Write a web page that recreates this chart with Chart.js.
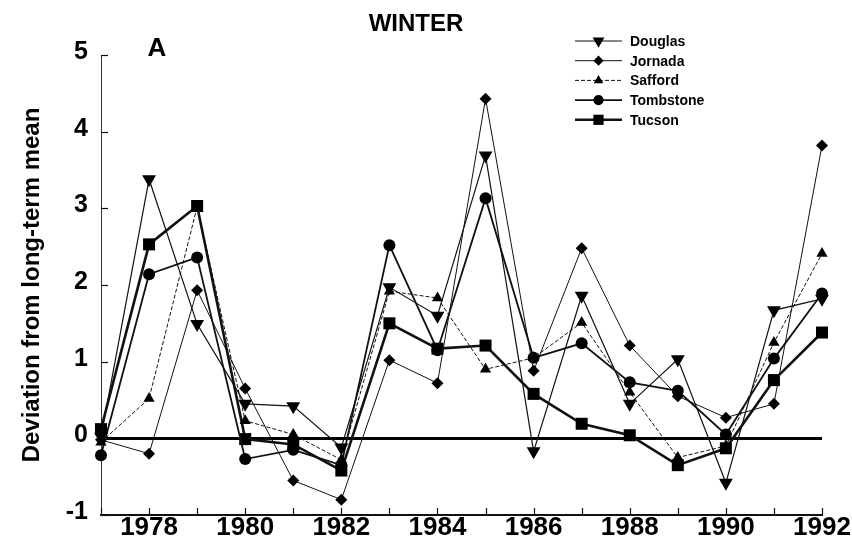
<!DOCTYPE html>
<html>
<head>
<meta charset="utf-8">
<script src="https://cdn.jsdelivr.net/npm/chart.js@4.4.1/dist/chart.umd.min.js"></script>
<style>
  html, body { margin: 0; padding: 0; background: #fff; }
  canvas { display: block; }
</style>
</head>
<body>
<canvas id="c" width="852" height="552"></canvas>
<script>
// Winter precipitation: deviation from the long-term mean, by station
const years     = [1977, 1978, 1979, 1980, 1981, 1982, 1983, 1984, 1985, 1986, 1987, 1988, 1989, 1990, 1991, 1992];
const douglas   = [0.02, 3.38, 1.49, 0.45, 0.42, -0.12, 1.97, 1.60, 3.69, -0.17, 1.86, 0.45, 1.03, -0.58, 1.67, 1.82];
const jornada   = [-0.02, -0.20, 1.93, 0.65, -0.55, -0.80, 1.02, 0.72, 4.43, 0.88, 2.48, 1.21, 0.55, 0.27, 0.45, 3.82];
const safford   = [-0.05, 0.52, 3.02, 0.23, 0.05, -0.28, 1.92, 1.83, 0.90, 1.05, 1.51, 0.60, -0.25, -0.10, 1.25, 2.41];
const tombstone = [-0.22, 2.14, 2.36, -0.27, -0.15, -0.35, 2.52, 1.15, 3.13, 1.05, 1.24, 0.73, 0.62, 0.05, 1.04, 1.89];
const tucson    = [0.12, 2.53, 3.03, -0.01, -0.08, -0.42, 1.50, 1.17, 1.21, 0.58, 0.19, 0.04, -0.35, -0.13, 0.76, 1.38];

const yTicks = [-1, 0, 1, 2, 3, 4, 5];
const titleText = 'WINTER';
const panelText = 'A';
const yTitle = 'Deviation from long-term mean';

const FONT = "'Liberation Sans', Arial, Helvetica, sans-serif";

const pts = arr => years.map((yr, i) => ({ x: yr, y: arr[i] }));

const series = [
  { label: 'Douglas',   data: douglas,   style: 'triangle', rot: 180, r: 8,   w: 1.2, dash: [] },
  { label: 'Jornada',   data: jornada,   style: 'rectRot',  rot: 0,   r: 6,   w: 1.0, dash: [] },
  { label: 'Safford',   data: safford,   style: 'triangle', rot: 0,   r: 6.5, w: 1.0, dash: [4, 2] },
  { label: 'Tombstone', data: tombstone, style: 'circle',   rot: 0,   r: 6,   w: 1.8, dash: [] },
  { label: 'Tucson',    data: tucson,    style: 'rect',     rot: 0,   r: 8.5, w: 2.6, dash: [] }
];

const datasets = series.map(s => ({
  label: s.label,
  data: pts(s.data),
  borderColor: '#111',
  backgroundColor: '#000',
  borderWidth: s.w,
  borderDash: s.dash,
  pointStyle: s.style,
  pointRotation: s.rot,
  pointRadius: s.r,
  pointHoverRadius: s.r,
  pointBorderWidth: 0,
  pointBackgroundColor: '#000',
  tension: 0,
  clip: false
}));

// Inward tick marks, title, panel letter and the station key
const decor = {
  id: 'decor',
  afterDraw(chart) {
    const { ctx, chartArea: a, scales: { x, y } } = chart;
    ctx.save();
    ctx.strokeStyle = '#111';
    ctx.lineWidth = 1.2;
    ctx.setLineDash([]);
    yTicks.forEach(v => {
      const py = Math.round(y.getPixelForValue(v)) + 0.5;
      ctx.beginPath(); ctx.moveTo(a.left, py); ctx.lineTo(a.left + 7, py); ctx.stroke();
    });
    years.forEach(yr => {
      const px = Math.round(x.getPixelForValue(yr)) + 0.5;
      ctx.beginPath(); ctx.moveTo(px, a.bottom); ctx.lineTo(px, a.bottom - 7); ctx.stroke();
    });

    ctx.fillStyle = '#000';
    ctx.textAlign = 'center';
    ctx.textBaseline = 'middle';
    ctx.font = 'bold 24px ' + FONT;
    ctx.fillText(titleText, 416, 24);
    ctx.font = 'bold 26px ' + FONT;
    ctx.fillText(panelText, 157, 49);

    // key
    const lx0 = 575, lx1 = 622, tx = 630;
    ctx.font = 'bold 14px ' + FONT;
    ctx.textAlign = 'left';
    chart.data.datasets.forEach((ds, i) => {
      const ly = 41 + i * 19.7;
      ctx.strokeStyle = ds.borderColor;
      ctx.lineWidth = ds.borderWidth;
      ctx.setLineDash(ds.borderDash || []);
      ctx.beginPath(); ctx.moveTo(lx0, ly); ctx.lineTo(lx1, ly); ctx.stroke();
      ctx.setLineDash([]);
      ctx.fillStyle = '#000';
      Chart.helpers.drawPoint(ctx, {
        pointStyle: ds.pointStyle,
        rotation: ds.pointRotation,
        radius: ds.pointRadius * 0.85,
        borderWidth: 0
      }, (lx0 + lx1) / 2, ly);
      ctx.fillText(ds.label, tx, ly + 1);
    });
    ctx.restore();
  }
};

new Chart(document.getElementById('c'), {
  type: 'line',
  data: { datasets },
  options: {
    responsive: false,
    animation: false,
    layout: { padding: { left: 0, right: 30, top: 55, bottom: 0 } },
    plugins: {
      legend: { display: false },
      tooltip: { enabled: false }
    },
    scales: {
      x: {
        type: 'linear',
        min: 1977,
        max: 1992,
        afterFit: s => { s.height = 37; },
        grid: { display: false, drawTicks: false },
        border: { display: true, color: '#111', width: 2 },
        ticks: {
          stepSize: 1,
          autoSkip: false,
          maxRotation: 0,
          padding: -3,
          color: '#000',
          font: { family: FONT, size: 26, weight: 'bold' },
          callback: v => (v % 2 === 0 ? String(v) : '')
        }
      },
      y: {
        min: -1,
        max: 5,
        afterFit: s => { s.width = 101; },
        grid: {
          drawTicks: false,
          color: c => (c.tick && c.tick.value === 0 ? '#000' : 'rgba(0,0,0,0)'),
          lineWidth: c => (c.tick && c.tick.value === 0 ? 3 : 0)
        },
        border: { display: true, color: '#333', width: 1 },
        ticks: {
          stepSize: 1,
          padding: 13,
          labelOffset: -3,
          color: '#000',
          font: { family: FONT, size: 25, weight: 'bold' }
        },
        title: {
          display: true,
          text: yTitle,
          color: '#000',
          font: { family: FONT, size: 24, weight: 'bold' },
          padding: { top: 18, bottom: 0 }
        }
      }
    }
  },
  plugins: [decor]
});
</script>
</body>
</html>
